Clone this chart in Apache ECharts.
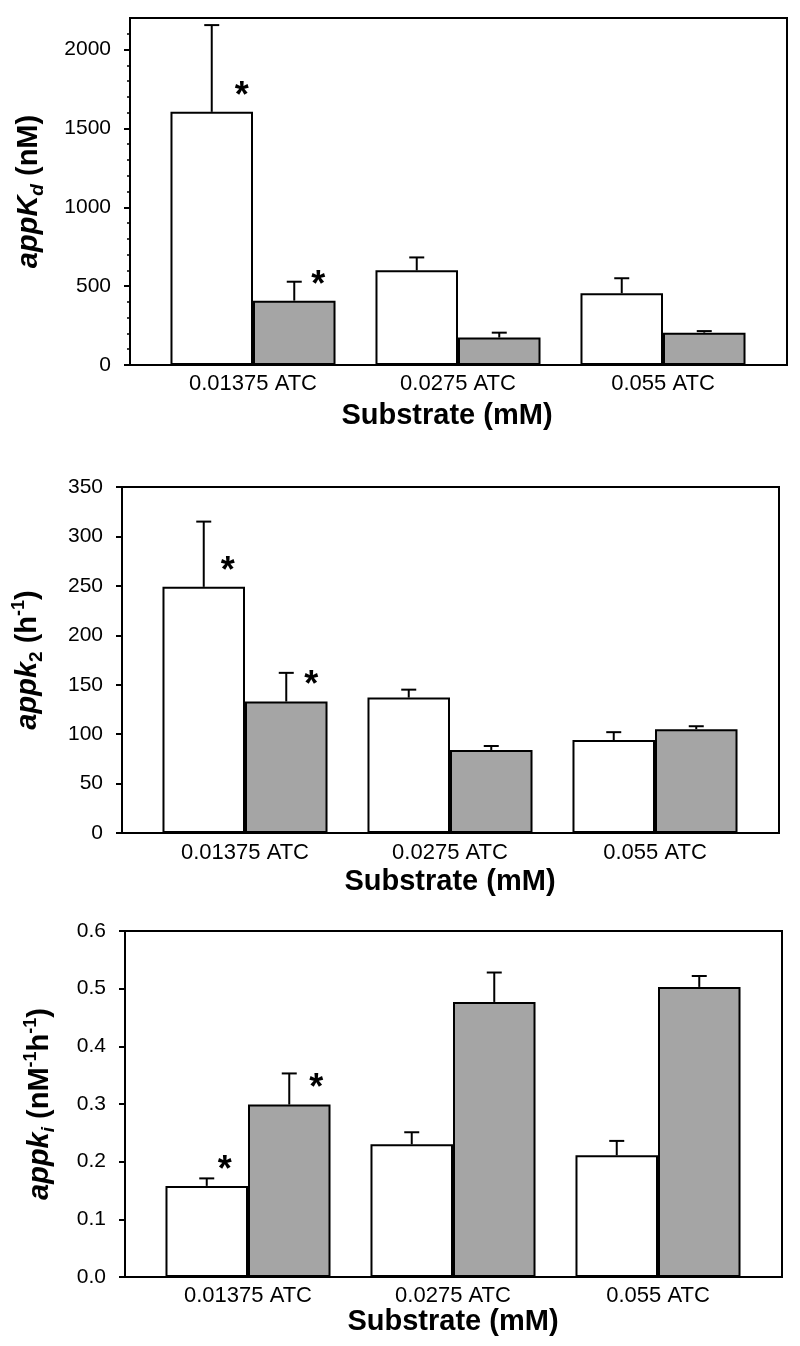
<!DOCTYPE html>
<html><head><meta charset="utf-8">
<script src="https://cdn.jsdelivr.net/npm/echarts@6/dist/echarts.min.js"></script>
<style>html,body{margin:0;padding:0;background:#fff}#c{width:800px;height:1346px}</style>
</head><body><div id="c"></div><script>
const categories = ['0.01375 ATC', '0.0275 ATC', '0.055 ATC'];

// Panel 1: appKd (nM)
const kdControl = [1605, 600, 455];
const kdControlErr = [550, 82, 95];
const kdTreated = [408, 174, 205];
const kdTreatedErr = [120, 31, 10];
const kdControlSig = [1, 0, 0];
const kdTreatedSig = [1, 0, 0];
const kdTicks = [0, 500, 1000, 1500, 2000];
const kdMinorTicks = [100, 200, 300, 400, 600, 700, 800, 900, 1100, 1200, 1300, 1400, 1600, 1700, 1800, 1900, 2100];

// Panel 2: appk2 (h-1)
const k2Control = [249, 137, 94];
const k2ControlErr = [66, 8, 8];
const k2Treated = [133, 84, 105];
const k2TreatedErr = [29, 4, 3];
const k2ControlSig = [1, 0, 0];
const k2TreatedSig = [1, 0, 0];
const k2Ticks = [0, 50, 100, 150, 200, 250, 300, 350];

// Panel 3: appki (nM-1 h-1)
const kiControl = [0.158, 0.230, 0.211];
const kiControlErr = [0.013, 0.021, 0.025];
const kiTreated = [0.299, 0.477, 0.503];
const kiTreatedErr = [0.054, 0.051, 0.019];
const kiControlSig = [1, 0, 0];
const kiTreatedSig = [1, 0, 0];
const kiTicks = [0, 0.1, 0.2, 0.3, 0.4, 0.5, 0.6];

const FONT = "'Liberation Sans', Arial, Helvetica, sans-serif";
const GREY = '#a5a5a5';
const CAT_GAP = 0.195;

const titleRich = {
  bi: {fontSize: 29, fontWeight: 'bold', fontStyle: 'italic', fontFamily: FONT, color: '#000', lineHeight: 36},
  b: {fontSize: 29, fontWeight: 'bold', fontFamily: FONT, color: '#000', lineHeight: 36},
  subi: {fontSize: 19, fontWeight: 'bold', fontStyle: 'italic', fontFamily: FONT, color: '#000', verticalAlign: 'bottom', lineHeight: 18},
  sub: {fontSize: 19, fontWeight: 'bold', fontFamily: FONT, color: '#000', verticalAlign: 'bottom', lineHeight: 18},
  sup: {fontSize: 18, fontWeight: 'bold', fontFamily: FONT, color: '#000', verticalAlign: 'top', lineHeight: 18}
};

const option = {animation: false, textStyle: {fontFamily: FONT}, grid: [], xAxis: [], yAxis: [], series: []};

function addPanel(p) {
  const fg = option.grid.length;
  option.grid.push({left: p.left, top: p.top, width: p.width, height: p.height, show: true,
    borderColor: '#000', borderWidth: 2, backgroundColor: 'transparent'});
  const bg = fg + 1;
  option.grid.push({left: p.left + 20.5, top: p.top, width: 615, height: p.height});
  const fx = option.xAxis.length;
  option.xAxis.push({type: 'value', gridIndex: fg, min: 0, max: 1, show: false});
  option.xAxis.push({type: 'category', gridIndex: bg, data: categories,
    axisLine: {show: false}, axisTick: {show: false},
    axisLabel: {color: '#000', fontSize: 22, margin: p.labelMargin, fontFamily: FONT},
    name: 'Substrate (mM)', nameLocation: 'middle', nameGap: p.xNameGap,
    nameTextStyle: {fontSize: 29, fontWeight: 'bold', color: '#000', fontFamily: FONT, padding: p.xNamePad}});
  option.yAxis.push({type: 'value', gridIndex: fg, position: 'left', min: 0, max: p.max, interval: p.interval,
    axisLine: {show: true, lineStyle: {color: '#000', width: 2}},
    axisTick: {show: true, length: 6, customValues: p.ticks, lineStyle: {color: '#000', width: 2}},
    axisLabel: {customValues: p.ticks, formatter: p.fmt, color: '#000', fontSize: 21, margin: 19, fontFamily: FONT},
    splitLine: {show: false},
    name: p.yName, nameLocation: 'middle', nameGap: p.yNameGap, nameRotate: 90,
    nameTextStyle: {rich: titleRich}});
  const by = option.yAxis.length;
  option.yAxis.push({type: 'value', gridIndex: bg, min: 0, max: p.max, show: false});
  if (p.minor) {
    option.yAxis.push({type: 'value', gridIndex: fg, position: 'left', min: 0, max: p.max, interval: 100,
      axisLine: {show: false}, axisLabel: {show: false}, splitLine: {show: false},
      axisTick: {show: true, length: 3, customValues: p.minor, lineStyle: {color: '#000', width: 1.5}}});
  }
  const sets = [
    [p.control, p.controlErr, p.controlSig, '#fff', -1, p.starDx[0]],
    [p.treated, p.treatedErr, p.treatedSig, GREY, 1, p.starDx[1]]
  ];
  sets.forEach(function (s) {
    option.series.push({type: 'bar', xAxisIndex: fx + 1, yAxisIndex: by, data: s[0],
      barGap: '0%', barCategoryGap: (CAT_GAP * 100) + '%', silent: true, z: 2,
      itemStyle: {color: s[3], borderColor: '#000', borderWidth: 2}});
  });
  sets.forEach(function (s) {
    const side = s[4];
    const starDx = s[5];
    option.series.push({type: 'custom', xAxisIndex: fx + 1, yAxisIndex: by, z: 3, silent: true, clip: false,
      data: s[0].map(function (v, k) { return [k, v, v + s[1][k], s[2][k]]; }),
      encode: {x: 0, y: [1, 2]},
      renderItem: function (params, api) {
        const c = api.coord([api.value(0), api.value(1)]);
        const e = api.coord([api.value(0), api.value(2)]);
        const band = api.size([1, 0])[0];
        const bw = band * (1 - CAT_GAP) / 2;
        const x = c[0] + side * bw / 2;
        const children = [
          {type: 'line', shape: {x1: x, y1: c[1], x2: x, y2: e[1]}, style: {stroke: '#000', lineWidth: 2}},
          {type: 'line', shape: {x1: x - 7.5, y1: e[1], x2: x + 7.5, y2: e[1]}, style: {stroke: '#000', lineWidth: 2}}
        ];
        if (api.value(3)) {
          children.push({type: 'text', x: x + starDx, y: c[1] - 15,
            style: {text: '*', font: 'bold 36px ' + FONT, fill: '#000', align: 'center', verticalAlign: 'middle'}});
        }
        return {type: 'group', children: children};
      }});
  });
}

addPanel({left: 130, top: 18, width: 657, height: 347, max: 2200, interval: 500, ticks: kdTicks, minor: kdMinorTicks,
  fmt: function (v) { return String(v); }, labelMargin: 8, xNameGap: 36, xNamePad: [0, 22, 0, 0],
  yName: '{bi|appK}{subi|d}{b| (nM)}', yNameGap: 83, starDx: [30, 24],
  control: kdControl, controlErr: kdControlErr, controlSig: kdControlSig,
  treated: kdTreated, treatedErr: kdTreatedErr, treatedSig: kdTreatedSig});

addPanel({left: 122, top: 487, width: 657, height: 346, max: 350, interval: 50, ticks: k2Ticks,
  fmt: function (v) { return String(v); }, labelMargin: 9, xNameGap: 34, xNamePad: [0, 0, 0, 0],
  yName: '{bi|appk}{sub|2}{b| (h}{sup|-1}{b|)}', yNameGap: 76, starDx: [24, 25],
  control: k2Control, controlErr: k2ControlErr, controlSig: k2ControlSig,
  treated: k2Treated, treatedErr: k2TreatedErr, treatedSig: k2TreatedSig});

addPanel({left: 125, top: 931, width: 657, height: 346, max: 0.6, interval: 0.1, ticks: kiTicks,
  fmt: function (v) { return v.toFixed(1); }, labelMargin: 8, xNameGap: 29, xNamePad: [0, 0, 0, 0],
  yName: '{bi|appk}{subi|i}{b| (nM}{sup|-1}{b|h}{sup|-1}{b|)}', yNameGap: 67, starDx: [18, 27],
  control: kiControl, controlErr: kiControlErr, controlSig: kiControlSig,
  treated: kiTreated, treatedErr: kiTreatedErr, treatedSig: kiTreatedSig});

const chart = echarts.init(document.getElementById('c'), null, {renderer: 'canvas'});
chart.setOption(option);
</script></body></html>
